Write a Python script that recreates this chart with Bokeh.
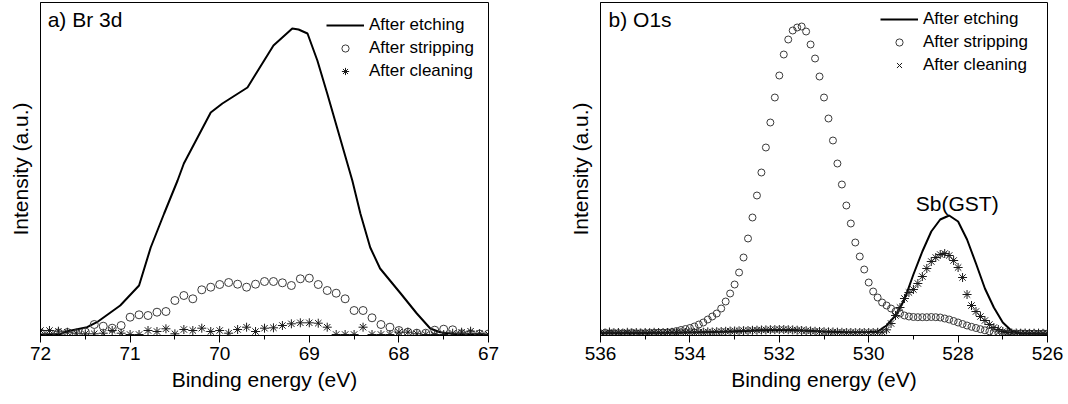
import numpy as np
from bokeh.plotting import figure
from bokeh.layouts import row
from bokeh.models import (Range1d, SingleIntervalTicker, FixedTicker, Label,
                          Legend, LegendItem)
from bokeh.embed import file_html
from bokeh.resources import INLINE

FONT = "Liberation Sans"

# ---------------- a) Br 3d ----------------
br_energy = np.round(np.arange(72.0, 66.95, -0.1), 1)
br_etch_energy = [72.0, 71.78, 71.70, 71.48, 71.37, 71.11, 70.90, 70.77, 70.62, 70.47,
                  70.40, 70.10, 69.97, 69.69, 69.40, 69.19, 69.12, 69.02, 68.91, 68.80,
                  68.52, 68.43, 68.32, 68.21, 67.98, 67.80, 67.65, 67.54, 67.39, 67.0]
br_etch = [1, 1.5, 4.3, 8.3, 13.3, 30, 50, 88, 122, 155,
           172, 223, 232, 248, 290, 307, 306, 302, 275, 242,
           155, 122, 88, 67, 42, 22, 7, 3.3, 1.5, 1]
br_strip = [2.5, 2, 2.5, 3, 2, 3.5, 11, 9.3, 7.3, 10,
            18.3, 20.7, 20, 23.3, 24, 35, 40, 36.7, 45.7, 48.3,
            51, 53, 51.3, 48.3, 51.3, 54, 54, 52.7, 50, 56.7,
            57.3, 51, 45, 42.3, 36.7, 25, 25, 17.7, 11, 8.3,
            5, 3.3, 2.3, 2.3, 5.3, 6.3, 5.7, 1.7, 1.5, 1.5, 1.5]
br_clean = [5, 5, 4.3, 3.3, 2.3, 1.7, 1.7, 2.3, 5, 2.3,
            1, 1, 5, 4, 6.7, 1.7, 6, 5, 7.3, 4,
            5, 2.3, 6, 8.3, 4, 7.3, 7.7, 10, 11.7, 12.7,
            12.7, 12.3, 8.3, 1, 1, 1, 8.3, 1, 1, 1,
            3.3, 3.3, 1.7, 1, 1, 1, 2.3, 3.3, 4.3, 1.7, 1]

# ---------------- b) O1s ----------------
o_energy = np.round(np.arange(536.0, 525.95, -0.1), 1)
o_etch_energy = [536.0, 535.0, 534.0, 533.0, 532.5, 532.0, 531.5, 531.0, 530.5, 530.0,
                 529.8, 529.6, 529.4, 529.2, 529.0, 528.8, 528.6, 528.4, 528.2, 528.0,
                 527.8, 527.6, 527.4, 527.2, 527.0, 526.8, 526.6, 526.0]
o_etch = [2.5, 2.5, 3, 4, 5, 5.5, 5, 4, 3.3, 3.5,
          4, 10, 20, 36, 61, 84, 104, 116, 120, 114,
          96, 72, 47, 28, 13, 4.5, 2, 1.5]
o_strip = [2, 2.3, 1.8, 2, 2.2, 1.9, 2, 2.3, 2, 2.1,
           2.2, 2.3, 2.5, 2.7, 3, 3.2, 3.5, 4.5, 5.5, 6.5,
           7.5, 9, 11, 13, 16, 19, 22, 27, 34, 42,
           51, 63, 78, 97, 118, 140, 163, 188, 213, 238,
           260, 281, 296, 305, 308, 309, 304, 291, 277, 259,
           238, 217, 195, 172, 151, 130, 112, 93, 79, 66,
           53, 44, 38, 33, 30, 27, 24, 22, 20, 19,
           18.5, 18.3, 18.3, 18.3, 18.5, 18.3, 18, 17, 16, 14.5,
           13, 11.5, 10, 8.7, 7.5, 6.3, 5.2, 4.2, 3.2, 2.5,
           2, 1.8, 2, 1.7, 2, 1.9, 1.8, 2, 1.7, 1.9, 2]
o_clean = [3, 2.5, 3.5, 2.8, 3, 2.5, 3.2, 2.8, 3, 2.6,
           3, 2.8, 3.2, 3, 2.7, 3, 3.2, 2.9, 3.1, 3,
           3.2, 3, 3.4, 3.3, 3.6, 3.5, 3.8, 4, 4.2, 4.4,
           4.5, 4.7, 4.8, 5, 5.2, 5.3, 5.5, 5.6, 5.8, 5.9,
           6, 6, 5.8, 5.6, 5.3, 5, 4.8, 4.5, 4.2, 4,
           3.8, 3.6, 3.5, 3.3, 3.2, 3, 3, 2.9, 3, 3,
           3, 3, 3.2, 3.5, 5.7, 12, 20, 28, 37, 43,
           46, 52, 59, 67, 74, 78, 81, 82, 80, 75,
           68, 58, 41, 30, 24, 19, 15, 11, 8, 6,
           4, 3, 2.5, 2.5, 2.3, 2.5, 2.2, 2.3, 2.4, 2.2, 2.3]

labels = ["After etching", "After stripping", "After cleaning"]


def make_fig(width, bl, br, xr, interval, title, title_x):
    p = figure(width=width, height=404, x_range=Range1d(*xr), y_range=Range1d(0, 333),
               output_backend="svg", toolbar_location=None,
               min_border_left=bl, min_border_right=br, min_border_top=2,
               min_border_bottom=69)
    p.grid.visible = False
    p.outline_line_color = "black"
    p.outline_line_alpha = 1
    p.outline_line_width = 1
    p.background_fill_color = "white"
    p.border_fill_color = "white"
    xa = p.xaxis[0]
    xa.ticker = SingleIntervalTicker(interval=interval, num_minor_ticks=2)
    xa.major_tick_in = 0
    xa.major_tick_out = 7
    xa.minor_tick_in = 0
    xa.minor_tick_out = 4
    xa.axis_line_color = "black"
    xa.major_tick_line_color = "black"
    xa.minor_tick_line_color = "black"
    xa.major_label_text_font = FONT
    xa.major_label_text_font_size = "19px"
    xa.major_label_text_color = "black"
    xa.major_label_standoff = 4
    xa.axis_label = "Binding energy (eV)"
    xa.axis_label_text_font = FONT
    xa.axis_label_text_font_size = "21px"
    xa.axis_label_text_font_style = "normal"
    xa.axis_label_text_color = "black"
    xa.axis_label_standoff = 5
    ya = p.yaxis[0]
    ya.ticker = FixedTicker(ticks=[])
    ya.major_tick_out = 0
    ya.minor_tick_out = 0
    ya.axis_line_color = "black"
    ya.axis_label = "Intensity (a.u.)"
    ya.axis_label_text_font = FONT
    ya.axis_label_text_font_size = "21px"
    ya.axis_label_text_font_style = "normal"
    ya.axis_label_text_color = "black"
    ya.axis_label_standoff = 9
    p.add_layout(Label(x=title_x, y=316, text=title, text_font=FONT,
                       text_font_size="21px", text_baseline="middle", text_color="black"))
    return p


def add_data(p, e_line, v_line, e_pts, strip, clean, legend_marker,
             circle_size, leg_loc, off_x):
    r_line = p.line(e_line, v_line, line_color="black", line_width=2)
    p.scatter(e_pts, strip, marker="circle", size=circle_size,
              fill_color=None, line_color="#3a3a3a", line_width=1)
    p.scatter(e_pts, clean, marker="asterisk", size=9,
              line_color="#1a1a1a", line_width=1)
    # legend-only glyphs, placed outside the visible range
    r_leg_strip = p.scatter([off_x], [-500], marker="circle", size=6,
                            fill_color=None, line_color="#3a3a3a", line_width=1)
    r_leg_clean = p.scatter([off_x], [-500], marker=legend_marker, size=9,
                            line_color="#1a1a1a", line_width=1)
    items = [LegendItem(label=labels[0], renderers=[r_line]),
             LegendItem(label=labels[1], renderers=[r_leg_strip]),
             LegendItem(label=labels[2], renderers=[r_leg_clean])]
    leg = Legend(items=items, location=leg_loc, glyph_width=38, glyph_height=18,
                 label_height=18, label_standoff=5, spacing=3, padding=4, margin=0,
                 label_text_font=FONT, label_text_font_size="17px",
                 label_text_color="black", border_line_alpha=0,
                 background_fill_alpha=0)
    p.add_layout(leg)


p1 = make_fig(544, 40, 56, (72, 67), 1, "a) Br 3d", 71.92)
add_data(p1, br_etch_energy, br_etch, br_energy, br_strip, br_clean,
         "asterisk", 8, (282, 250), 72)

p2 = make_fig(524, 56, 21, (536, 526), 2, "b) O1s", 535.82)
add_data(p2, o_etch_energy, o_etch, o_energy, o_strip, o_clean,
         "x", 7, (276, 256), 530)
p2.add_layout(Label(x=528.02, y=132, text="Sb(GST)", text_font=FONT,
                    text_font_size="21px", text_align="center",
                    text_baseline="middle", text_color="black"))

layout = row(p1, p2)
open("out.html", "w").write(file_html(layout, INLINE))
